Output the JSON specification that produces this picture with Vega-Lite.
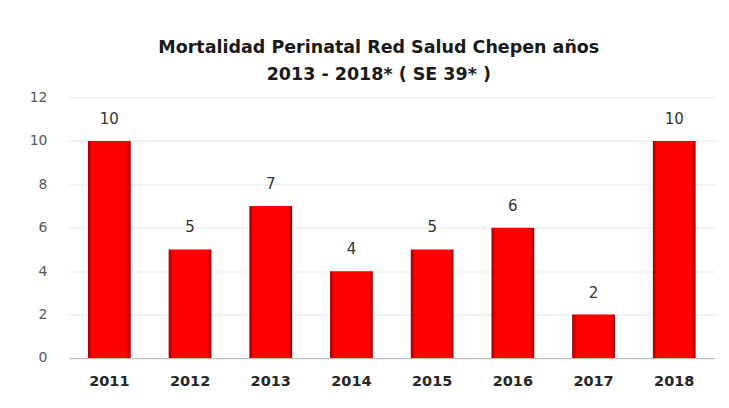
{
  "$schema": "https://vega.github.io/schema/vega-lite/v6.json",
  "width": 645.6,
  "height": 260.5,
  "autosize": {"type": "none"},
  "padding": {"left": 69, "top": 97.5, "right": 14, "bottom": 50},
  "background": "white",
  "title": {
    "text": ["Mortalidad Perinatal Red Salud Chepen años", "2013 - 2018*  ( SE 39* )"],
    "font": "DejaVu Sans",
    "fontSize": 17.5,
    "fontWeight": "bold",
    "color": "#1a1a1a",
    "lineHeight": 27,
    "anchor": "middle",
    "dx": -13,
    "offset": 7
  },
  "data": {
    "values": [
      {"year": "2011", "value": 10},
      {"year": "2012", "value": 5},
      {"year": "2013", "value": 7},
      {"year": "2014", "value": 4},
      {"year": "2015", "value": 5},
      {"year": "2016", "value": 6},
      {"year": "2017", "value": 2},
      {"year": "2018", "value": 10}
    ]
  },
  "encoding": {
    "x": {
      "field": "year",
      "type": "nominal",
      "sort": null,
      "scale": {"paddingInner": 0.47, "paddingOuter": 0.235},
      "axis": {
        "title": null,
        "labelAngle": 0,
        "labelFont": "DejaVu Sans",
        "labelFontSize": 14.5,
        "labelFontWeight": "bold",
        "labelColor": "#262626",
        "labelPadding": 17,
        "ticks": false,
        "domainColor": "#bfbfbf",
        "domainWidth": 1
      }
    },
    "y": {
      "field": "value",
      "type": "quantitative",
      "scale": {"domain": [0, 12], "nice": false},
      "axis": {
        "title": null,
        "values": [0, 2, 4, 6, 8, 10, 12],
        "grid": true,
        "gridColor": "#e6e6e6",
        "domain": false,
        "ticks": false,
        "labelFont": "DejaVu Sans",
        "labelFontSize": 14,
        "labelColor": "#595959",
        "labelPadding": 22
      }
    }
  },
  "layer": [
    {
      "mark": {
        "type": "bar",
        "color": {
          "gradient": "linear",
          "x1": 0, "x2": 1, "y1": 0, "y2": 0,
          "stops": [
            {"offset": 0, "color": "#a00000"},
            {"offset": 0.1, "color": "#ff0000"},
            {"offset": 0.9, "color": "#ff0000"},
            {"offset": 1, "color": "#a00000"}
          ]
        }
      }
    },
    {
      "mark": {
        "type": "text",
        "dy": -22,
        "font": "DejaVu Sans",
        "fontSize": 15,
        "color": "#333333"
      },
      "encoding": {"text": {"field": "value", "type": "quantitative"}}
    }
  ],
  "config": {"view": {"stroke": null}}
}
